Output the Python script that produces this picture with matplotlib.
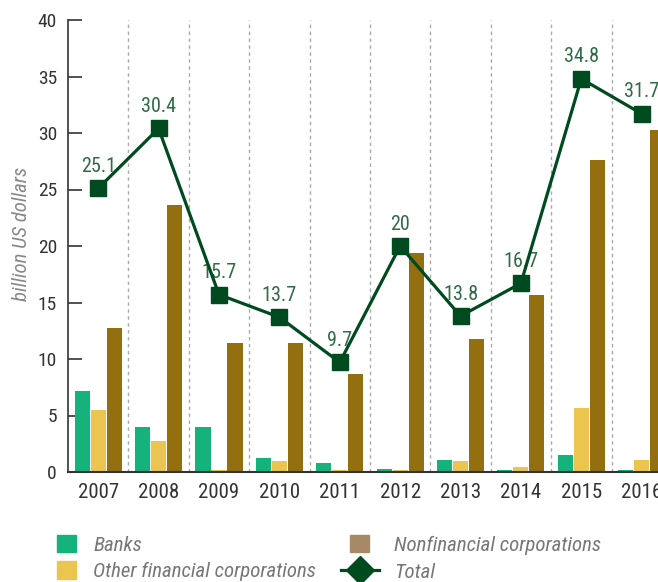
import matplotlib
matplotlib.use("Agg")
import numpy as np
import matplotlib.pyplot as plt
from matplotlib.patches import Patch
from matplotlib.lines import Line2D

plt.rcParams['font.family'] = ['Roboto Condensed', 'Liberation Sans Narrow',
                               'DejaVu Sans Condensed', 'Arial Narrow', 'Roboto']

years = ["2007", "2008", "2009", "2010", "2011", "2012", "2013", "2014", "2015", "2016"]
banks = [7.2, 4.0, 4.0, 1.2, 0.8, 0.3, 1.1, 0.2, 1.5, 0.2]
other_fin = [5.5, 2.7, 0.2, 1.0, 0.2, 0.2, 1.0, 0.4, 5.7, 1.1]
nonfin = [12.7, 23.6, 11.4, 11.4, 8.7, 19.4, 11.8, 15.7, 27.6, 30.3]
total = [25.1, 30.4, 15.7, 13.7, 9.7, 20, 13.8, 16.7, 34.8, 31.7]

c_banks = "#15b37b"
c_other = "#ebc550"
c_nonfin = "#936f10"
c_nonfin_leg = "#a68a68"
c_total = "#004a1f"
c_label = "#2f6b47"

fig = plt.figure(figsize=(6.58, 5.82), dpi=100)
ax = fig.add_axes([68 / 658, 1 - 472 / 582, 1 - 68 / 658, 452 / 582])

x = np.arange(len(years))
w = 0.25
off = 0.265
ax.bar(x - off, banks, w, color=c_banks, zorder=2)
ax.bar(x, other_fin, w, color=c_other, zorder=2)
ax.bar(x + off, nonfin, w, color=c_nonfin, zorder=2)

for i in range(len(years) - 1):
    ax.axvline(i + 0.5, color="#aaaaaa", lw=1, ls=(0, (2.5, 2.5)), zorder=1)

ax.plot(x, total, color=c_total, lw=2.3, marker="s", markersize=11.5, zorder=4,
        clip_on=False)
for xi, t in zip(x, total):
    ax.annotate(f"{t:g}", (xi, t), xytext=(0, 9), textcoords="offset points",
                ha="center", va="bottom", color=c_label, fontsize=14.5)

ax.set_xlim(-0.5, 9.27)
ax.set_ylim(0, 40)
ax.set_yticks(range(0, 41, 5))
ax.set_xticks(x)
ax.set_xticklabels(years)
ax.tick_params(axis="y", direction="in", length=10, width=1.2, color="#333333",
               labelsize=14, labelcolor="#333333", pad=8)
ax.tick_params(axis="x", length=0, labelsize=15, labelcolor="#333333", pad=8)
for s in ["top", "right"]:
    ax.spines[s].set_visible(False)
ax.spines["left"].set_color("#333333")
ax.spines["left"].set_linewidth(1.2)
ax.spines["bottom"].set_color("#333333")
ax.spines["bottom"].set_linewidth(1.5)
ax.set_ylabel("billion US dollars", fontsize=15, style="italic", color="#888888")
ax.yaxis.set_label_coords(-0.062, 0.527)

leg_kw = dict(frameon=False, fontsize=15, handleheight=0.91,
              labelspacing=0.3, borderaxespad=0, borderpad=0)
l1 = fig.legend([Patch(color=c_banks), Patch(color=c_other)],
                ["Banks", "Other financial corporations"], loc="upper left",
                bbox_to_anchor=(57 / 658, 1 - 535 / 582), handlelength=0.91,
                handletextpad=0.82, **leg_kw)
l2 = fig.legend([Patch(color=c_nonfin_leg)], ["Nonfinancial corporations"],
                loc="upper left", bbox_to_anchor=(350 / 658, 1 - 535 / 582),
                handlelength=0.91, handletextpad=1.2, **leg_kw)
l3 = fig.legend([Line2D([], [], color=c_total, lw=2.3, marker="D", markersize=14)],
                ["Total"], loc="upper left",
                bbox_to_anchor=(341 / 658, 1 - 562 / 582),
                handlelength=1.83, handletextpad=0.72, **leg_kw)
for lg in (l1, l2, l3):
    for t in lg.get_texts():
        t.set_color("#777777")
        t.set_style("italic")

fig.savefig("out.png", dpi=100)
